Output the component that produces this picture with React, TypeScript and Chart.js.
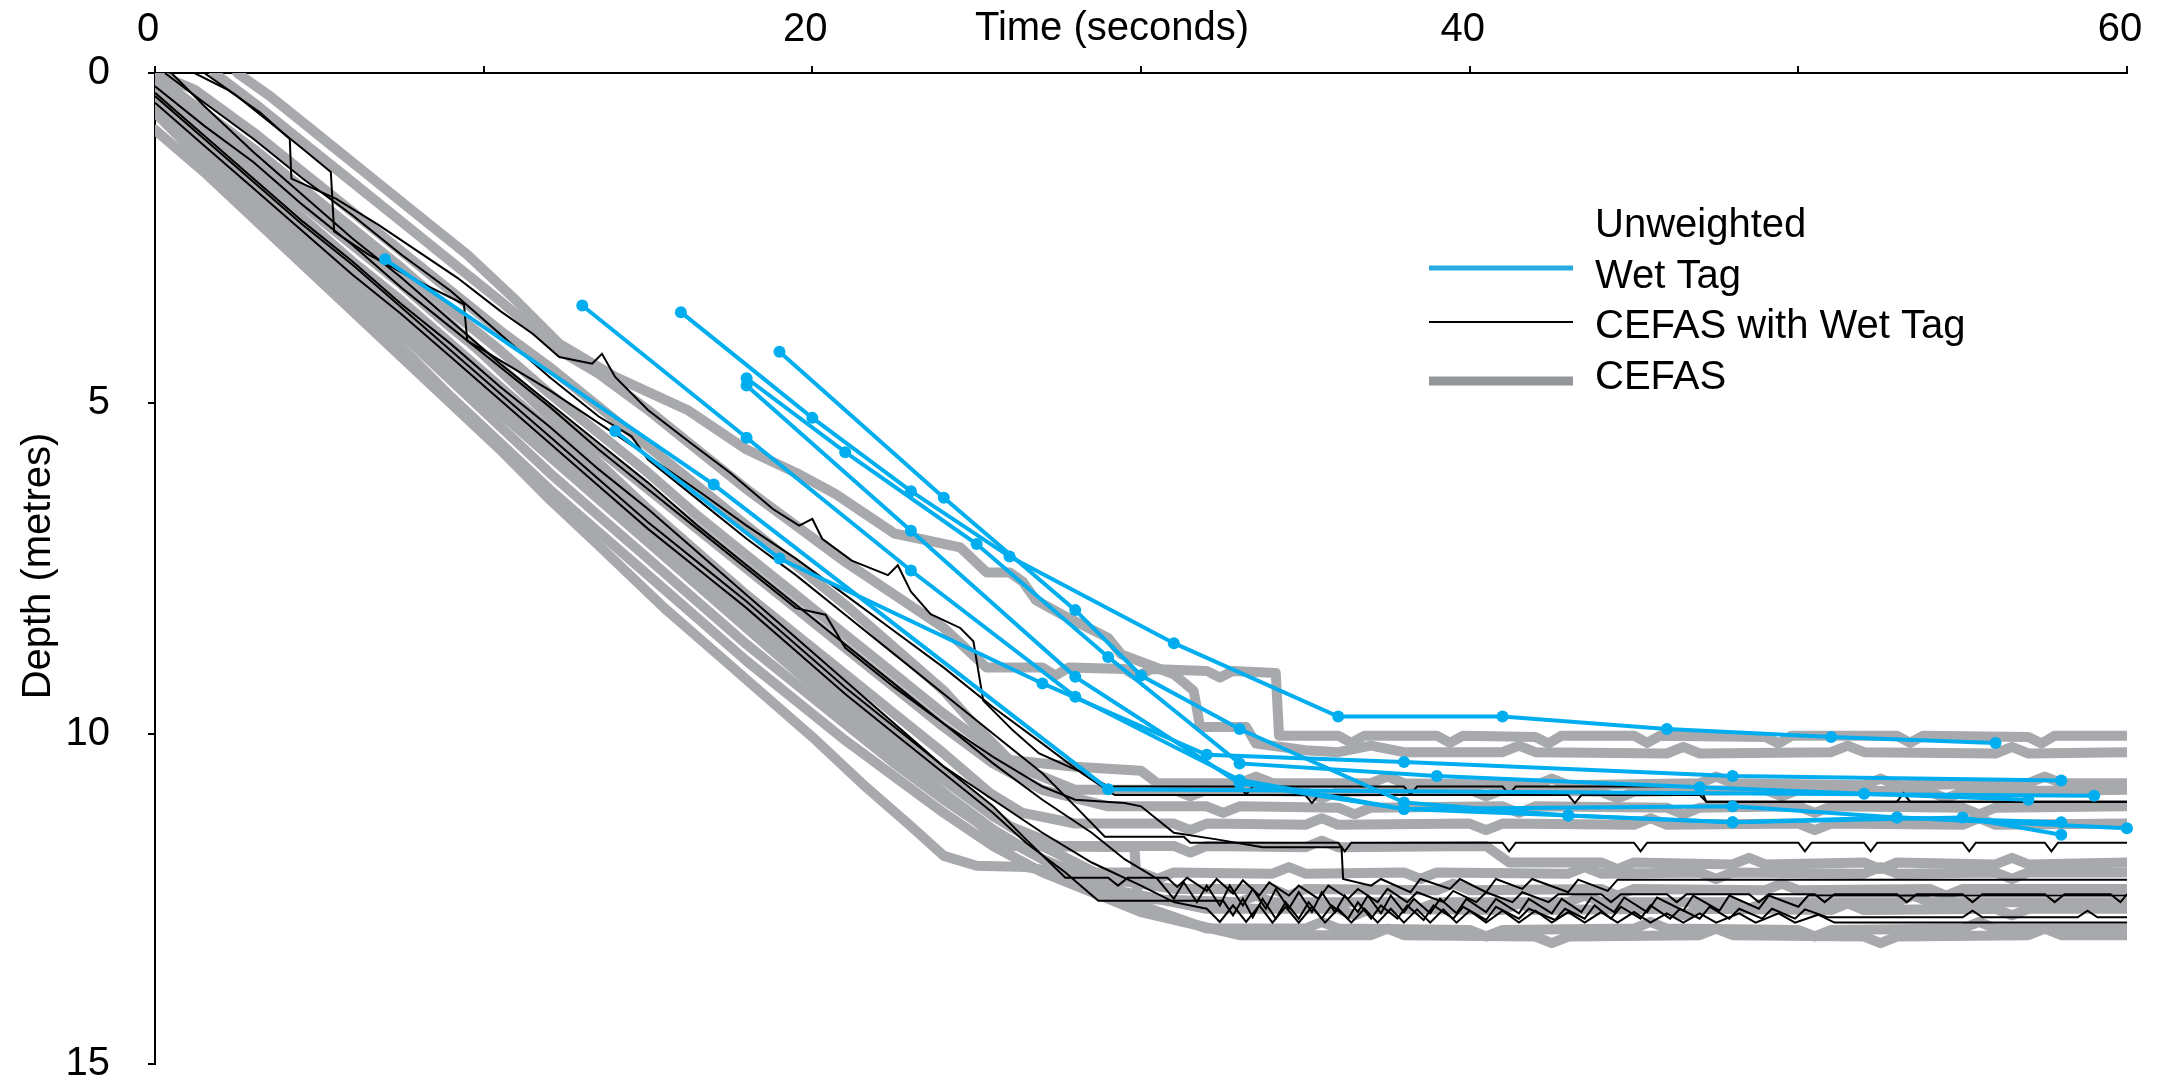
import React, { useEffect, useRef } from 'react';
import { Chart, registerables } from 'chart.js';

Chart.register(...registerables);

type Pt = [number, number];

// ---------- axes / text ----------
const X_TICKS = [0, 10, 20, 30, 40, 50, 60];
const X_LABELLED = [0, 20, 40, 60];
const Y_TICKS = [0, 5, 10, 15];
const X_TITLE = 'Time (seconds)';
const Y_TITLE = 'Depth (metres)';
const LEGEND_HEADER = 'Unweighted';
const LEGEND_LABELS = ['Wet Tag', 'CEFAS with Wet Tag', 'CEFAS'];

// ---------- Wet Tag (time s, depth m) ----------
const wetTag1: Pt[] = [[7, 2.82], [17, 6.23], [29, 10.84], [59, 10.94]];
const wetTag2: Pt[] = [[13, 3.52], [18, 5.52], [23, 7.53], [28, 9.44], [33, 10.7], [38, 11.14], [48, 11.1], [53, 11.27], [60, 11.43]];
const wetTag3: Pt[] = [[16, 3.62], [20, 5.22], [23, 6.33], [26, 7.32], [31, 8.63], [36, 9.74], [41, 9.74], [46, 9.93], [51, 10.05], [56, 10.14]];
const wetTag4: Pt[] = [[19, 4.22], [24, 6.43], [28, 8.13], [30, 9.12], [33, 9.93], [38, 11.04], [43, 11.24], [48, 11.34], [53, 11.27], [58, 11.34]];
const wetTag5: Pt[] = [[14, 5.42], [19, 7.35], [27, 9.24], [32, 10.32], [38, 10.43], [48, 10.64], [58, 10.71]];
const wetTag6: Pt[] = [[18, 4.62], [21, 5.74], [25, 7.13], [29, 8.84], [33, 10.45], [39, 10.64], [47, 10.81], [52, 10.91], [57, 11.0]];
const wetTag7: Pt[] = [[18, 4.73], [23, 6.93], [28, 9.14], [33, 10.75], [38, 11.14], [43, 11.24], [48, 11.34], [55, 11.27], [58, 11.53]];

// ---------- CEFAS with Wet Tag ----------
const cefasWet1: Pt[] = [[1.2, 0], [2.2, 0.25], [3.2, 0.6], [4.1, 1.0], [4.15, 1.6], [5.5, 1.9], [6.8, 2.3], [8, 2.7], [9.2, 3.1], [10.5, 3.6], [11.5, 3.95], [12.3, 4.3], [13.3, 4.4], [13.6, 4.25], [14, 4.6], [15, 5.1], [16.3, 5.6], [17.5, 6.05], [18.8, 6.6], [19.6, 6.85], [20, 6.75], [20.3, 7.05], [21.2, 7.38], [22.3, 7.6], [22.6, 7.45], [23, 7.85], [23.6, 8.19], [24.5, 8.4], [24.9, 8.6], [25.2, 9.5], [26.1, 9.95], [26.9, 10.3], [27.8, 10.5], [28.5, 10.65], [29, 10.8], [33, 10.8], [33.2, 10.92], [33.4, 10.8], [38, 10.8], [38.2, 10.92], [38.4, 10.8], [41, 10.8], [41.2, 10.92], [41.4, 10.8], [47, 10.8], [47.2, 11.03], [53, 11.03], [53.2, 10.9], [53.4, 11.03], [60, 11.03]];
const cefasWet2: Pt[] = [[1.5, 0], [2.5, 0.35], [3.5, 0.75], [4.5, 1.15], [5.35, 1.5], [5.45, 2.4], [6.5, 2.75], [8, 3.15], [9.4, 3.5], [9.5, 4.05], [10.5, 4.35], [12, 4.8], [13.5, 5.3], [15, 5.8], [16.6, 6.35], [18, 6.85], [19.5, 7.35], [21, 7.9], [22.5, 8.45], [24, 9.0], [25.5, 9.6], [27, 10.15], [28.2, 10.6], [29.2, 10.93], [35, 10.93], [35.2, 11.05], [35.4, 10.93], [43, 10.93], [43.2, 11.05], [43.4, 10.93], [47, 10.93], [47.2, 11.03], [60, 11.03]];
const cefasWet3: Pt[] = [[0.3, 0], [1.5, 0.45], [3, 1.0], [4.5, 1.6], [6, 2.15], [7.5, 2.75], [9, 3.3], [10.5, 3.95], [12, 4.6], [13.5, 5.2], [14.5, 5.5], [15, 5.85], [16.5, 6.45], [18, 7.05], [19.5, 7.6], [21, 8.2], [22.5, 8.8], [24, 9.4], [25.5, 10.0], [27, 10.6], [28, 11.1], [28.9, 11.56], [31.3, 11.56], [31.5, 11.65], [36, 11.65], [36.2, 11.78], [36.4, 11.65], [41, 11.65], [41.2, 11.78], [41.4, 11.65], [45, 11.65], [45.2, 11.78], [45.4, 11.65], [50, 11.65], [50.2, 11.78], [50.4, 11.65], [52, 11.65], [52.2, 11.78], [52.4, 11.65], [55, 11.65], [55.2, 11.78], [55.4, 11.65], [57.5, 11.65], [57.7, 11.78], [57.9, 11.65], [60, 11.65]];
const cefasWet4: Pt[] = [[0, 0.2], [1.5, 0.8], [3, 1.35], [4.5, 2.0], [6, 2.6], [7.5, 3.25], [9, 3.85], [10.5, 4.45], [12, 5.05], [13.5, 5.7], [15, 6.3], [16.5, 6.9], [18, 7.5], [19.5, 8.1], [20.4, 8.2], [21, 8.7], [22.5, 9.3], [24, 9.85], [25.5, 10.35], [27, 10.8], [28, 11.0], [29.5, 11.05], [30, 11.1], [31, 11.5], [32.3, 11.6], [33.7, 11.72], [36.1, 11.72], [36.15, 12.2], [37, 12.3], [37.3, 12.2], [38.2, 12.4], [38.5, 12.2], [39.4, 12.35], [39.7, 12.2], [40.5, 12.4], [40.8, 12.2], [41.6, 12.35], [41.9, 12.2], [43, 12.4], [43.3, 12.21], [44.2, 12.38], [44.5, 12.21], [60, 12.21]];
const cefasWet5: Pt[] = [[0, 0.3], [1.5, 0.95], [3, 1.6], [4.5, 2.25], [6, 2.85], [7.5, 3.5], [9, 4.1], [10.5, 4.75], [12, 5.35], [13.5, 6.0], [15, 6.6], [16.5, 7.25], [18, 7.9], [19.5, 8.55], [21, 9.2], [22.5, 9.85], [24, 10.5], [25.5, 11.1], [26.5, 11.6], [27.7, 12.18], [29, 12.18], [29.3, 12.3], [29.6, 12.18], [30.8, 12.18], [31.1, 12.32], [31.4, 12.18], [32, 12.38], [32.3, 12.2], [32.8, 12.42], [33.1, 12.22], [33.6, 12.45], [33.9, 12.25], [34.5, 12.45], [34.8, 12.3], [35.4, 12.5], [35.7, 12.3], [36.3, 12.5], [36.6, 12.35], [37.2, 12.55], [37.5, 12.35], [38.1, 12.55], [38.4, 12.4], [39.2, 12.55], [39.5, 12.38], [40.2, 12.55], [40.5, 12.4], [41.3, 12.55], [41.6, 12.4], [42.4, 12.55], [42.7, 12.43], [44, 12.43], [44.3, 12.55], [44.6, 12.43], [46, 12.43], [46.3, 12.55], [46.6, 12.43], [48.5, 12.43], [48.8, 12.55], [49.1, 12.43], [50.5, 12.43], [50.8, 12.55], [51.1, 12.43], [53, 12.43], [53.3, 12.55], [53.6, 12.43], [55, 12.43], [55.3, 12.55], [55.6, 12.43], [57.5, 12.43], [57.8, 12.55], [58.1, 12.43], [59.5, 12.43], [59.8, 12.55], [60, 12.43]];
const cefasWet6: Pt[] = [[0, 0.45], [1.5, 1.1], [3, 1.75], [4.5, 2.4], [6, 3.05], [7.5, 3.65], [9, 4.3], [10.5, 4.95], [12, 5.6], [13.5, 6.25], [15, 6.9], [16.5, 7.5], [18, 8.1], [19.5, 8.75], [21, 9.4], [22.5, 10.0], [24, 10.6], [25.5, 11.2], [26.5, 11.65], [27.7, 12.1], [28.7, 12.53], [32.5, 12.53], [32.8, 12.75], [33.1, 12.5], [33.4, 12.78], [33.7, 12.5], [34.1, 12.8], [34.4, 12.55], [34.8, 12.8], [35.1, 12.55], [35.5, 12.8], [35.8, 12.6], [36.3, 12.8], [36.6, 12.55], [37, 12.8], [37.3, 12.6], [37.8, 12.8], [38.1, 12.6], [38.6, 12.82], [38.9, 12.6], [39.5, 12.8], [39.8, 12.62], [40.5, 12.82], [40.8, 12.62], [41.5, 12.8], [41.8, 12.65], [42.6, 12.82], [42.9, 12.65], [43.5, 12.8], [43.8, 12.6], [44.3, 12.8], [44.6, 12.62], [45.2, 12.8], [45.5, 12.6], [46.1, 12.8], [46.4, 12.65], [47, 12.8], [47.3, 12.62], [47.9, 12.8], [48.2, 12.65], [48.9, 12.8], [49.2, 12.65], [49.9, 12.8], [50.2, 12.66], [50.9, 12.78], [55, 12.78], [55.3, 12.68], [55.6, 12.78], [58.5, 12.78], [58.8, 12.68], [59.1, 12.78], [60, 12.78]];
const cefasWet7: Pt[] = [[0.5, 0], [1.5, 0.5], [3, 1.2], [4.5, 1.85], [6, 2.5], [7.5, 3.1], [9, 3.75], [10.5, 4.4], [12, 5.0], [13.5, 5.6], [15, 6.2], [16.5, 6.85], [18, 7.45], [19.5, 8.05], [21, 8.65], [22.5, 9.25], [24, 9.85], [25.5, 10.45], [27, 11.0], [28.5, 11.5], [29.5, 11.9], [30.5, 12.2], [31, 12.5], [31.3, 12.25], [31.7, 12.55], [32, 12.3], [32.4, 12.6], [32.7, 12.3], [33.1, 12.6], [33.4, 12.35], [33.8, 12.65], [34.1, 12.35], [34.5, 12.65], [34.8, 12.4], [35.2, 12.7], [35.5, 12.4], [35.9, 12.7], [36.2, 12.45], [36.6, 12.7], [36.9, 12.45], [37.3, 12.72], [37.6, 12.45], [38, 12.7], [38.3, 12.5], [38.8, 12.72], [39.1, 12.5], [39.6, 12.72], [39.9, 12.5], [40.5, 12.7], [40.8, 12.5], [41.5, 12.72], [41.8, 12.5], [42.5, 12.72], [42.8, 12.5], [43.4, 12.7], [43.7, 12.48], [44.4, 12.7], [44.7, 12.48], [45.4, 12.7], [45.7, 12.48], [46.5, 12.68], [46.8, 12.45], [47.6, 12.68], [47.9, 12.45], [48.8, 12.65], [49.1, 12.45], [50, 12.62], [50.3, 12.45], [60, 12.45]];
const cefasWet8: Pt[] = [[0, 0.35], [1.5, 1.0], [3, 1.65], [4.5, 2.3], [6, 2.9], [7.5, 3.55], [9, 4.2], [10.5, 4.85], [12, 5.5], [13.5, 6.15], [15, 6.8], [16.5, 7.4], [18, 8.0], [19.5, 8.65], [21, 9.3], [22.5, 9.9], [24, 10.5], [25.5, 11.0], [27, 11.5], [28.5, 11.95], [30, 12.3], [31, 12.55], [32, 12.65], [32.4, 12.85], [32.8, 12.6], [33.2, 12.85], [33.6, 12.6], [34, 12.86], [34.4, 12.62], [34.8, 12.86], [35.2, 12.62], [35.6, 12.86], [36, 12.65], [36.4, 12.86], [36.8, 12.65], [37.2, 12.86], [37.6, 12.65], [38, 12.86], [38.4, 12.66], [38.8, 12.86], [39.2, 12.66], [39.6, 12.86], [40, 12.68], [40.5, 12.86], [41, 12.68], [41.5, 12.86], [42, 12.68], [42.5, 12.86], [43, 12.7], [43.5, 12.86], [44, 12.7], [44.5, 12.86], [45, 12.7], [45.5, 12.86], [46, 12.72], [46.5, 12.86], [47, 12.72], [47.5, 12.86], [48.2, 12.72], [48.7, 12.86], [49.4, 12.72], [49.9, 12.86], [50.6, 12.74], [51.1, 12.86], [60, 12.86]];

// ---------- CEFAS ----------
const cefas1: Pt[] = [[1.8, 0], [3, 0.45], [4.5, 1.05], [6, 1.65], [7.5, 2.25], [9, 2.85], [10.5, 3.45], [12.3, 4.2], [13.5, 4.55], [15, 5.1], [16.5, 5.7], [18, 6.3], [19.5, 6.85], [21, 7.4], [22.5, 7.9], [24, 8.4], [25.3, 9.0], [27, 9.0], [27.4, 9.12], [27.8, 9.0], [29.5, 9.02], [29.9, 9.14], [30.3, 9.02], [32, 9.05], [32.4, 9.15], [32.8, 9.05], [34.1, 9.08], [34.2, 10.03], [36, 10.03], [36.4, 10.14], [36.8, 10.03], [39, 10.03], [39.4, 10.14], [39.8, 10.03], [42, 10.05], [42.4, 10.15], [42.8, 10.03], [45, 10.03], [45.4, 10.14], [45.8, 10.03], [49, 10.05], [49.4, 10.15], [49.8, 10.03], [53, 10.03], [53.4, 10.14], [53.8, 10.03], [57, 10.05], [57.4, 10.15], [57.8, 10.03], [60, 10.03]];
const cefas2: Pt[] = [[2.5, 0], [3.5, 0.35], [5, 0.95], [6.5, 1.55], [8, 2.15], [9.5, 2.75], [11, 3.45], [12.3, 4.1], [14, 4.6], [16.2, 5.1], [18, 5.7], [19.5, 6.05], [20.7, 6.37], [22.5, 6.97], [24.5, 7.18], [25.3, 7.56], [26, 7.56], [26.4, 7.7], [26.8, 7.98], [27.6, 8.2], [29, 8.55], [29.4, 8.8], [31, 9.1], [31.6, 9.35], [31.8, 9.9], [33.2, 9.9], [33.5, 10.15], [35, 10.25], [36, 10.28], [37, 10.18], [38, 10.28], [41, 10.28], [41.5, 10.18], [42, 10.28], [46, 10.3], [46.5, 10.2], [47, 10.3], [51, 10.28], [51.5, 10.18], [52, 10.28], [56, 10.3], [56.5, 10.2], [57, 10.3], [60, 10.28]];
const cefas3: Pt[] = [[0, 0], [1.2, 0.25], [3, 0.9], [4.5, 1.5], [6, 2.1], [7.5, 2.7], [9, 3.3], [10.5, 3.9], [12, 4.45], [13.5, 5.05], [15, 5.65], [16.5, 6.25], [18, 6.85], [19.5, 7.45], [21, 8.05], [22.5, 8.7], [24, 9.35], [25, 9.9], [26, 10.4], [28, 10.5], [30, 10.56], [30.5, 10.75], [33, 10.75], [33.5, 10.65], [34, 10.75], [37, 10.75], [37.5, 10.65], [38, 10.75], [42, 10.78], [42.5, 10.68], [43, 10.78], [47, 10.75], [47.5, 10.65], [48, 10.75], [52, 10.78], [52.5, 10.68], [53, 10.78], [57, 10.75], [57.5, 10.65], [58, 10.75], [60, 10.75]];
const cefas4: Pt[] = [[0, 0.05], [1.5, 0.6], [3, 1.15], [4.5, 1.75], [6, 2.35], [7.5, 2.95], [9, 3.6], [10.5, 4.2], [12, 4.85], [13.5, 5.45], [15, 6.05], [16.5, 6.7], [18, 7.3], [19.5, 7.9], [21, 8.5], [22.5, 9.1], [24, 9.7], [25.5, 10.25], [26.5, 10.55], [28, 10.85], [31, 10.85], [31.5, 10.95], [32, 10.85], [35, 10.88], [35.5, 10.98], [36, 10.88], [40, 10.85], [40.5, 10.95], [41, 10.85], [44, 10.88], [44.5, 10.98], [45, 10.88], [49, 10.85], [49.5, 10.95], [50, 10.85], [54, 10.88], [54.5, 10.98], [55, 10.88], [60, 10.85]];
const cefas5: Pt[] = [[0, 0.3], [1.5, 0.85], [3, 1.4], [4.5, 2.0], [6, 2.6], [7.5, 3.2], [9, 3.85], [10.5, 4.45], [12, 5.1], [13.5, 5.7], [15, 6.3], [16.5, 6.9], [18, 7.5], [19.5, 8.1], [21, 8.7], [22.5, 9.3], [24, 9.9], [25.5, 10.45], [27, 10.85], [29, 11.1], [32, 11.1], [32.5, 11.2], [33, 11.1], [36, 11.12], [36.5, 11.22], [37, 11.12], [41, 11.1], [41.5, 11.2], [42, 11.1], [46, 11.12], [46.5, 11.22], [47, 11.12], [50, 11.1], [50.5, 11.2], [51, 11.1], [55, 11.12], [55.5, 11.22], [56, 11.12], [60, 11.1]];
const cefas6: Pt[] = [[0, 0.1], [1.5, 0.7], [3, 1.3], [4.5, 1.9], [6, 2.5], [7.5, 3.15], [9, 3.8], [10.5, 4.5], [12, 5.2], [13.5, 5.9], [15, 6.6], [16.5, 7.25], [18, 7.9], [19.5, 8.5], [21, 9.1], [22.5, 9.7], [24, 10.3], [25.4, 10.9], [26.4, 11.2], [28, 11.36], [31, 11.36], [31.5, 11.46], [32, 11.36], [35, 11.38], [35.5, 11.28], [36, 11.38], [40, 11.36], [40.5, 11.46], [41, 11.36], [45, 11.38], [45.5, 11.28], [46, 11.38], [50, 11.36], [50.5, 11.46], [51, 11.36], [55, 11.38], [55.5, 11.28], [56, 11.38], [60, 11.36]];
const cefas7: Pt[] = [[0, 0.25], [1.5, 0.9], [3, 1.55], [4.5, 2.2], [6, 2.85], [7.5, 3.45], [9, 4.1], [10.5, 4.75], [12, 5.4], [13.5, 6.05], [15, 6.7], [16.5, 7.35], [18, 8.0], [19.5, 8.65], [21, 9.3], [22.5, 9.95], [24, 10.6], [25, 11.0], [26, 11.4], [27.5, 11.7], [31, 11.7], [31.5, 11.8], [32, 11.7], [35, 11.72], [35.5, 11.62], [36, 11.72], [40.5, 11.7], [41.2, 11.95], [44, 11.95], [44.5, 12.05], [45, 11.95], [48, 11.98], [48.5, 11.88], [49, 11.98], [52, 11.95], [52.5, 12.05], [53, 11.95], [56, 11.98], [56.5, 11.88], [57, 11.98], [60, 11.95]];
const cefas8: Pt[] = [[0, 0.86], [1.5, 1.5], [3, 2.2], [4.5, 2.9], [6, 3.6], [7.5, 4.3], [9, 5.0], [10.5, 5.7], [12, 6.45], [13.5, 7.15], [15.5, 8.1], [17, 8.75], [18.5, 9.4], [20, 10.05], [21.5, 10.75], [23, 11.4], [24, 11.85], [25, 12.0], [26.5, 12.02], [27.5, 12.1], [30, 12.1], [30.5, 12.2], [31, 12.1], [34, 12.12], [34.5, 12.02], [35, 12.12], [38, 12.1], [38.5, 12.2], [39, 12.1], [43, 12.12], [43.5, 12.02], [44, 12.12], [47, 12.1], [47.5, 12.2], [48, 12.1], [52, 12.12], [52.5, 12.02], [53, 12.12], [56, 12.1], [56.5, 12.2], [57, 12.1], [60, 12.1]];
const cefas9: Pt[] = [[0, 0.4], [1.5, 1.05], [3, 1.7], [4.5, 2.35], [6, 3.0], [7.5, 3.65], [9, 4.35], [10.5, 5.0], [12, 5.7], [13.5, 6.35], [15, 7.0], [16.5, 7.65], [18, 8.3], [19.5, 8.95], [21, 9.6], [22.5, 10.25], [24, 10.9], [25.5, 11.55], [26, 11.7], [29.8, 11.72], [29.9, 12.5], [33, 12.55], [33.5, 12.45], [34, 12.55], [38, 12.55], [38.5, 12.65], [39, 12.55], [43, 12.55], [43.5, 12.45], [44, 12.55], [48, 12.55], [48.5, 12.65], [49, 12.55], [53, 12.55], [53.5, 12.45], [54, 12.55], [60, 12.55]];
const cefas10: Pt[] = [[0, 0.2], [1.5, 0.9], [3, 1.6], [4.5, 2.25], [6, 2.9], [7.5, 3.6], [9, 4.3], [10.5, 4.95], [12, 5.6], [13.5, 6.25], [15, 6.9], [16.5, 7.55], [18, 8.2], [19.5, 8.85], [21, 9.5], [22.5, 10.1], [24, 10.7], [25.5, 11.25], [27, 11.7], [29, 12.2], [31, 12.35], [34, 12.35], [34.5, 12.45], [35, 12.35], [39, 12.37], [39.5, 12.27], [40, 12.37], [44, 12.35], [44.5, 12.45], [45, 12.35], [49, 12.37], [49.5, 12.27], [50, 12.37], [54, 12.35], [54.5, 12.45], [55, 12.35], [60, 12.35]];
const cefas11: Pt[] = [[0, 0.35], [1.5, 1.05], [3, 1.75], [4.5, 2.45], [6, 3.1], [7.5, 3.8], [9, 4.5], [10.5, 5.15], [12, 5.8], [13.5, 6.45], [15, 7.1], [16.5, 7.75], [18, 8.4], [19.5, 9.05], [21, 9.7], [22.5, 10.3], [24, 10.9], [25.5, 11.45], [27, 11.9], [29.5, 12.4], [32, 12.65], [36, 12.65], [36.5, 12.75], [37, 12.65], [41, 12.67], [41.5, 12.57], [42, 12.67], [46, 12.65], [46.5, 12.75], [47, 12.65], [51, 12.67], [51.5, 12.57], [52, 12.67], [56, 12.65], [56.5, 12.75], [57, 12.65], [60, 12.65]];
const cefas12: Pt[] = [[0, 0.5], [1.5, 1.2], [3, 1.9], [4.5, 2.6], [6, 3.3], [7.5, 3.95], [9, 4.65], [10.5, 5.35], [12, 6.05], [13.5, 6.7], [15, 7.35], [16.5, 8.0], [18, 8.65], [19.5, 9.25], [21, 9.85], [22.5, 10.45], [24, 11.0], [25.5, 11.5], [27, 11.9], [28.5, 12.25], [30, 12.6], [32, 12.95], [35, 12.95], [35.5, 12.85], [36, 12.95], [40, 12.97], [40.5, 13.07], [41, 12.97], [45, 12.95], [45.5, 12.85], [46, 12.95], [50, 12.97], [50.5, 13.07], [51, 12.97], [55, 12.95], [55.5, 12.85], [56, 12.95], [60, 12.95]];
const cefas13: Pt[] = [[0, 0.6], [1.5, 1.35], [3, 2.05], [4.5, 2.75], [6, 3.45], [7.5, 4.15], [9, 4.9], [10.5, 5.6], [12, 6.3], [13.5, 6.95], [15, 7.6], [16.5, 8.25], [18, 8.9], [19.5, 9.5], [21, 10.1], [22.5, 10.65], [24, 11.2], [25.5, 11.7], [27, 12.1], [28.5, 12.4], [30, 12.7], [33, 13.05], [37, 13.05], [37.5, 12.95], [38, 13.05], [42, 13.07], [42.5, 13.17], [43, 13.07], [47, 13.05], [47.5, 12.95], [48, 13.05], [52, 13.07], [52.5, 13.17], [53, 13.07], [57, 13.05], [57.5, 12.95], [58, 13.05], [60, 13.05]];

const WET_TAG = [wetTag1, wetTag2, wetTag3, wetTag4, wetTag5, wetTag6, wetTag7];
const CEFAS_WET = [cefasWet1, cefasWet2, cefasWet3, cefasWet4, cefasWet5, cefasWet6, cefasWet7, cefasWet8];
const CEFAS = [cefas1, cefas2, cefas3, cefas4, cefas5, cefas6, cefas7, cefas8, cefas9, cefas10, cefas11, cefas12, cefas13];

const FONT = '"Liberation Sans", Arial, Helvetica, sans-serif';
const BLUE = '#00AEEF';
const GREY = '#A7A9AC';

export default function App() {
  const ref = useRef<HTMLCanvasElement | null>(null);

  useEffect(() => {
    document.body.style.margin = '0';
    const canvas = ref.current;
    if (!canvas) return;
    const toXY = (p: Pt[]) => p.map(([x, y]) => ({ x, y }));

    const datasets: any[] = [
      ...WET_TAG.map((s) => ({
        label: LEGEND_LABELS[0], data: toXY(s), borderColor: BLUE, backgroundColor: BLUE,
        borderWidth: 4, pointRadius: 6, pointHoverRadius: 6, pointBorderWidth: 0,
        pointBackgroundColor: BLUE, tension: 0, order: 0, clip: 10,
      })),
      ...CEFAS_WET.map((s) => ({
        label: LEGEND_LABELS[1], data: toXY(s), borderColor: '#000000', borderWidth: 2,
        pointRadius: 0, pointHoverRadius: 0, tension: 0, order: 1, borderJoinStyle: 'miter',
      })),
      ...CEFAS.map((s) => ({
        label: LEGEND_LABELS[2], data: toXY(s), borderColor: GREY, borderWidth: 10,
        pointRadius: 0, pointHoverRadius: 0, tension: 0, order: 2,
        borderJoinStyle: 'round', borderCapStyle: 'round',
      })),
    ];

    const overlay = {
      id: 'overlay',
      afterDraw(chart: any) {
        const ctx = chart.ctx as CanvasRenderingContext2D;
        ctx.save();
        ctx.fillStyle = '#000';
        ctx.font = `40px ${FONT}`;
        ctx.textBaseline = 'middle';
        ctx.textAlign = 'center';
        ctx.fillText(X_TITLE, 1112, 29);
        ctx.save();
        ctx.translate(39, 566);
        ctx.rotate(-Math.PI / 2);
        ctx.fillText(Y_TITLE, 0, 0);
        ctx.restore();

        ctx.textAlign = 'left';
        const textX = 1595;
        ctx.fillText(LEGEND_HEADER, textX, 226);
        const rows = [
          { y: 277, ly: 268, color: '#29ABE2', w: 5 },
          { y: 327, ly: 322, color: '#000000', w: 2 },
          { y: 378, ly: 381, color: '#939598', w: 9 },
        ];
        rows.forEach((r, i) => {
          ctx.strokeStyle = r.color;
          ctx.lineWidth = r.w;
          ctx.beginPath();
          ctx.moveTo(1429, r.ly);
          ctx.lineTo(1573, r.ly);
          ctx.stroke();
          ctx.fillStyle = '#000';
          ctx.fillText(LEGEND_LABELS[i], textX, r.y);
        });
        ctx.restore();
      },
    };

    const chart = new Chart(canvas, {
      type: 'line',
      data: { datasets },
      plugins: [overlay],
      options: {
        responsive: false,
        maintainAspectRatio: false,
        animation: false,
        parsing: false as any,
        layout: { padding: { left: 0, right: 39, top: 0, bottom: 23 } },
        plugins: { legend: { display: false }, tooltip: { enabled: false } },
        elements: { line: { fill: false } },
        scales: {
          x: {
            type: 'linear', position: 'top', min: 0, max: 60,
            afterBuildTicks: (s: any) => { s.ticks = X_TICKS.map((v) => ({ value: v })); },
            afterFit: (s: any) => { s.height = 73; s.paddingLeft = 0; s.paddingRight = 0; },
            ticks: {
              autoSkip: false, maxRotation: 0, padding: 12, labelOffset: -7, color: '#000',
              font: { family: FONT, size: 40 },
              callback: (v: any) => (X_LABELLED.includes(Number(v)) ? String(v) : ''),
            },
            grid: { drawOnChartArea: false, drawTicks: true, tickLength: 7, color: '#000', lineWidth: 2 },
            border: { display: true, color: '#000', width: 2 },
          },
          y: {
            type: 'linear', position: 'left', reverse: true, min: 0, max: 15,
            afterBuildTicks: (s: any) => { s.ticks = Y_TICKS.map((v) => ({ value: v })); },
            afterFit: (s: any) => { s.width = 155; s.paddingTop = 0; s.paddingBottom = 0; },
            ticks: {
              autoSkip: false, padding: 38, color: '#000',
              font: { family: FONT, size: 40 },
              callback: (v: any) => String(v),
            },
            grid: { drawOnChartArea: false, drawTicks: true, tickLength: 7, color: '#000', lineWidth: 2 },
            border: { display: true, color: '#000', width: 2 },
          },
        },
      } as any,
    });
    return () => chart.destroy();
  }, []);

  return <canvas ref={ref} width={2166} height={1087} style={{ display: 'block', width: 2166, height: 1087 }} />;
}
